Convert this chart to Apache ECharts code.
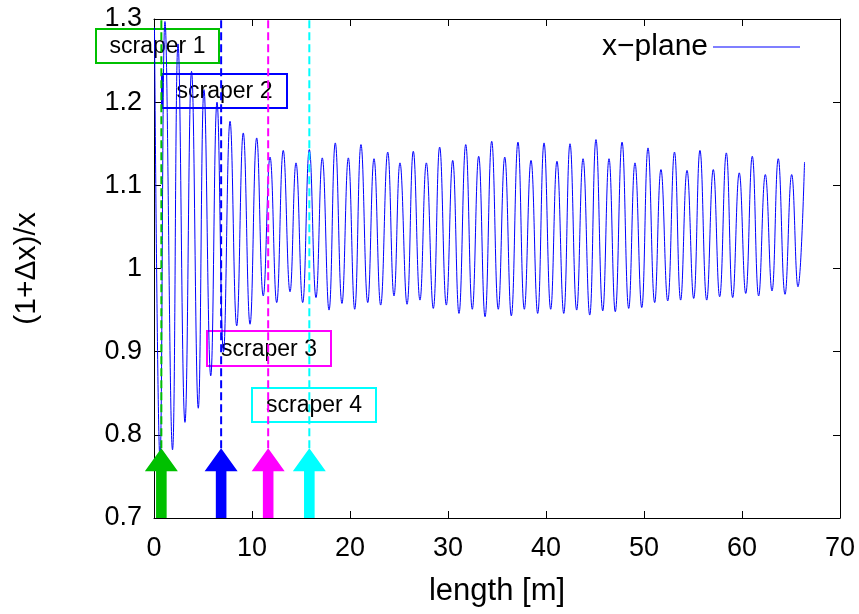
<!DOCTYPE html>
<html>
<head>
<meta charset="utf-8">
<script src="https://cdn.jsdelivr.net/npm/echarts@6/dist/echarts.min.js"></script>
<style>html,body{margin:0;padding:0;background:#fff}#c{width:859px;height:614px}</style>
</head>
<body>
<div id="c"></div>
<script>
// extrema of the x-plane curve (length [m], value)
const lengthM = [0.05,0.61,1.12,1.89,2.45,3.16,3.83,4.52,5.10,5.79,6.43,7.09,7.76,8.44,9.11,9.80,10.48,11.15,11.84,12.52,13.19,13.88,14.49,15.17,15.85,16.53,17.17,17.86,18.50,19.18,19.83,20.48,21.12,21.81,22.45,23.13,23.85,24.49,25.10,25.82,26.46,27.14,27.79,28.50,29.15,29.83,30.48,31.12,31.81,32.48,33.13,33.78,34.46,35.13,35.79,36.46,37.14,37.79,38.47,39.15,39.80,40.48,41.12,41.81,42.45,43.13,43.78,44.46,45.10,45.79,46.43,47.07,47.76,48.44,49.08,49.77,50.41,51.09,51.73,52.42,53.11,53.74,54.39,55.07,55.71,56.40,57.07,57.72,58.40,59.05,59.72,60.38,61.05,61.70,62.38,63.06,63.70,64.39,65.07,65.71,66.38];
const xPlane = [1.29,0.77,1.297,0.782,1.27,0.815,1.237,0.832,1.215,0.871,1.20,0.90,1.177,0.931,1.163,0.933,1.157,0.967,1.134,0.959,1.142,0.972,1.127,0.959,1.143,0.965,1.133,0.950,1.151,0.958,1.133,0.951,1.149,0.959,1.132,0.956,1.140,0.967,1.127,0.957,1.141,0.962,1.127,0.952,1.146,0.956,1.130,0.946,1.149,0.951,1.135,0.942,1.153,0.951,1.134,0.943,1.152,0.951,1.130,0.946,1.151,0.951,1.129,0.946,1.150,0.950,1.132,0.944,1.155,0.949,1.132,0.948,1.152,0.952,1.127,0.953,1.145,0.959,1.119,0.961,1.140,0.962,1.118,0.964,1.142,0.962,1.119,0.966,1.139,0.965,1.115,0.970,1.135,0.967,1.113,0.973,1.132,0.969,1.113,0.978,1.128];
const scraperNames = ['scraper 1','scraper 2','scraper 3','scraper 4'];
const scraperPos = [0.75, 6.85, 11.65, 15.85];
const xTicks = [0,10,20,30,40,50,60,70];
const yTicks = [0.7,0.8,0.9,1,1.1,1.2,1.3];

const scraperColors = ['#00c000','#0000ff','#ff00ff','#00ffff'];
const arrowTip = 0.784;
const tickFont = 'Liberation Sans Narrow, Liberation Sans, sans-serif';

const chart = echarts.init(document.getElementById('c'), null, {renderer:'canvas'});

const axCommon = {
  axisLine:{show:true,onZero:false,lineStyle:{color:'#000',width:1}},
  axisTick:{show:true,inside:true,length:7,lineStyle:{color:'#000',width:1}},
  splitLine:{show:false}
};

const labelBoxes = [
  {x:95, y:28, w:123, h:34},
  {x:161, y:73, w:125, h:34},
  {x:206, y:330, w:124, h:35},
  {x:251, y:387, w:124, h:34}
];

const graphic = labelBoxes.map((b,i)=>({
  type:'group', left:b.x, top:b.y, z:100,
  children:[
    {type:'rect', shape:{x:0,y:0,width:b.w,height:b.h}, style:{fill:'#fff',stroke:scraperColors[i],lineWidth:2}},
    {type:'text', style:{x:b.w/2,y:b.h/2+1,text:scraperNames[i],fill:'#000',font:'23px Liberation Sans, sans-serif',align:'center',verticalAlign:'middle'}}
  ]
}));

chart.setOption({
  animation:false,
  backgroundColor:'#fff',
  grid:{left:154,right:19,top:19,bottom:96,show:false},
  legend:{
    data:[{name:'x\u2212plane',icon:'rect'}], right:54, top:27, align:'right',
    itemWidth:87, itemHeight:1,
    textStyle:{fontSize:30,fontFamily:tickFont,color:'#000'}
  },
  xAxis:[
    Object.assign({type:'value',min:0,max:70,interval:10,position:'bottom',
      axisLabel:{fontSize:27,fontFamily:tickFont,color:'#000',margin:17},
      name:'length [m]',nameLocation:'middle',nameGap:58,
      nameTextStyle:{fontSize:31,fontFamily:tickFont,color:'#000'}},axCommon),
    Object.assign({type:'value',min:0,max:70,interval:10,position:'top',axisLabel:{show:false}},axCommon)
  ],
  yAxis:[
    Object.assign({type:'value',min:0.7,max:1.3,interval:0.1,position:'left',
      axisLabel:{fontSize:27,fontFamily:tickFont,color:'#000',margin:12},
      name:'(1+\u0394x)/x',nameLocation:'middle',nameGap:112,nameRotate:90,
      nameTextStyle:{fontSize:30,fontFamily:tickFont,color:'#000'}},axCommon),
    Object.assign({type:'value',min:0.7,max:1.3,interval:0.1,position:'right',axisLabel:{show:false}},axCommon)
  ],
  graphic: graphic,
  series:[
    {
      name:'x\u2212plane', type:'line', xAxisIndex:0, yAxisIndex:0,
      data: lengthM.map((x,i)=>[x, xPlane[i]]),
      smooth:0.45, symbol:'none', showSymbol:false,
      lineStyle:{color:'#0000ff',width:1}, itemStyle:{color:'#0000ff'}, z:2
    },
    {
      name:'dashes', type:'custom', xAxisIndex:0, yAxisIndex:0, z:3,
      data: scraperPos.map((p,i)=>[p,i]),
      renderItem:function(params, api){
        const x = api.value(0), i = api.value(1);
        const a = api.coord([x, arrowTip]);
        const b = api.coord([x, 1.3]);
        return {type:'line', shape:{x1:a[0],y1:a[1],x2:b[0],y2:b[1]},
          style:{stroke:scraperColors[i],lineWidth:2,lineDash:[8,4]}};
      }
    },
    {
      name:'arrows', type:'custom', xAxisIndex:0, yAxisIndex:0, z:4,
      data: scraperPos.map((p,i)=>[p,i]),
      renderItem:function(params, api){
        const x = api.value(0), i = api.value(1);
        const base = api.coord([x, 0.7]);
        const tip = api.coord([x, arrowTip]);
        const cx = tip[0], bw = 5.3, hw = 16.5, hh = 23;
        const hb = tip[1] + hh;
        return {type:'polygon', shape:{points:[
          [cx-bw, base[1]],[cx-bw, hb],[cx-hw, hb],[cx, tip[1]],[cx+hw, hb],[cx+bw, hb],[cx+bw, base[1]]
        ]}, style:{fill:scraperColors[i]}};
      }
    }
  ]
});
</script>
</body>
</html>
